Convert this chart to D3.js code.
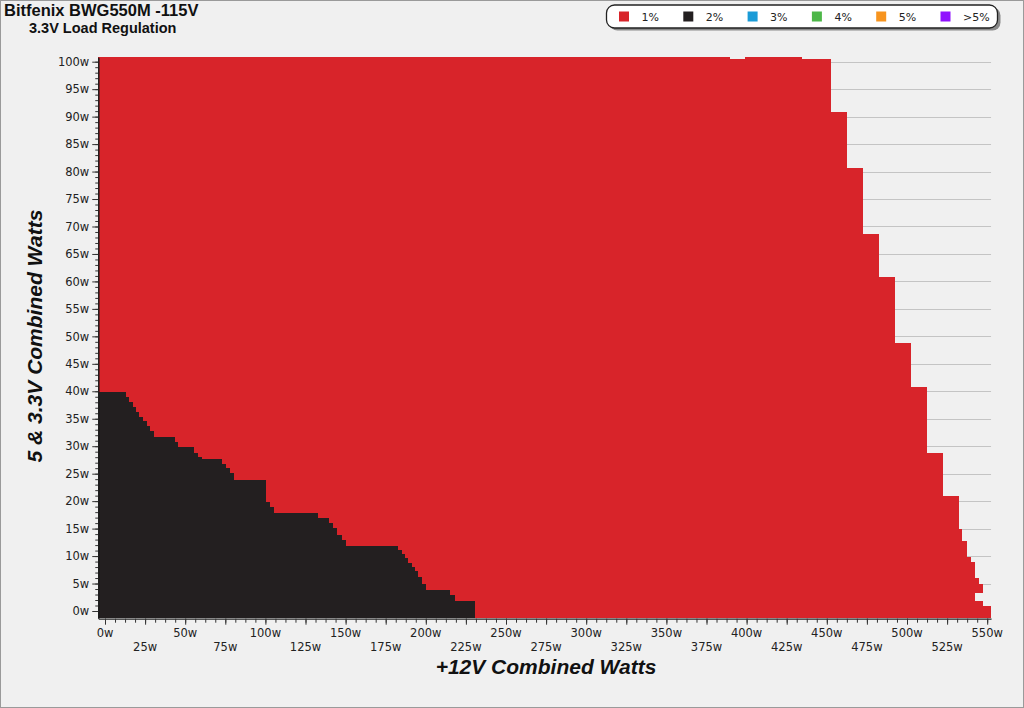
<!DOCTYPE html>
<html>
<head>
<meta charset="utf-8">
<script src="https://cdn.jsdelivr.net/npm/d3@7"></script>
<style>
html,body{margin:0;padding:0;background:#f0f0f0;}
svg{display:block;}
</style>
</head>
<body>
<svg id="chart" width="1024" height="708"></svg>
<script>
// ---- data ----
const categories = ["1%", "2%", "3%", "4%", "5%", ">5%"];
const categoryColors = ["#d8242a", "#231f20", "#1a9bd7", "#4db748", "#f7941e", "#9012fe"];

const xTickValues = d3.range(0, 551, 25);   // +12V combined watts
const yTickValues = d3.range(0, 101, 5);    // 5 & 3.3V combined watts

const xStart = -4.2;      // left edge of measured area (W)
const yBottom = -1.2;     // bottom edge of measured area (W)

// outer boundary of the 1% (red) region: [x end (W), top (W)]
const redEdge = [
  [389.7, 100.8], [399.0, 100.5], [434.5, 100.8], [452.6, 100.5],
  [462.4, 90.8], [472.4, 80.6], [482.7, 68.6], [492.5, 60.8],
  [502.3, 48.7], [512.3, 40.8], [522.6, 28.7], [532.6, 21.0],
  [534.5, 14.9], [537.2, 12.8], [539.9, 9.9], [542.4, 9.0],
  [544.9, 6.0], [547.2, 4.9], [552.4, 0.9]
];
// unmeasured hole inside the red region: [x0, x1, y0, y1] (W)
const redGaps = [[542.4, 547.2, 1.9, 3.2]];

// boundary of the 2% (black) region: [x end (W), top (W)]
const blackEdge = [
  [13.1, 39.9], [15.1, 39.0], [17.3, 38.1], [19.3, 37.2], [21.4, 36.3],
  [23.5, 35.4], [26.0, 34.5], [28.1, 33.6], [30.7, 32.7], [43.6, 31.7],
  [45.7, 30.8], [55.7, 29.9], [58.0, 28.7], [60.3, 28.1], [72.8, 27.7],
  [75.2, 26.8], [77.9, 26.0], [80.6, 25.1], [100.4, 23.8], [102.9, 19.9],
  [105.5, 19.0], [132.6, 17.9], [139.8, 16.9], [142.3, 16.0], [144.8, 15.1],
  [147.6, 13.8], [150.2, 12.9], [182.9, 11.8], [185.0, 11.1], [187.0, 10.4],
  [189.1, 9.6], [191.2, 8.8], [193.3, 8.1], [195.3, 7.2], [197.4, 6.2],
  [200.1, 5.0], [215.1, 3.8], [218.2, 2.9], [230.7, 1.9]
];

// ---- drawing ----
const svg = d3.select("#chart");
const W = 1024, H = 708;
const bg = "#f0f0f0";

const x = d3.scaleLinear().domain([0, 550]).range([105, 987.2]);
const y = d3.scaleLinear().domain([0, 100]).range([611, 61.7]);

svg.append("rect").attr("x", 0.5).attr("y", 0.5).attr("width", W - 1).attr("height", H - 1)
  .attr("fill", bg).attr("stroke", "#9a9a9a");

// grid lines
svg.append("g").selectAll("line").data(yTickValues).join("line")
  .attr("x1", x(xStart)).attr("x2", x(552.4))
  .attr("y1", d => Math.round(y(d)) + 0.5).attr("y2", d => Math.round(y(d)) + 0.5)
  .attr("stroke", "#c4c4c4").attr("stroke-width", 1);

function stepPoints(edge) {
  const pts = [[xStart, edge[0][1]]];
  for (let i = 0; i < edge.length - 1; i++) pts.push([edge[i][0], edge[i + 1][1]]);
  pts.push([edge[edge.length - 1][0], edge[edge.length - 1][1]]);
  return pts;
}
const area = d3.area().curve(d3.curveStepAfter)
  .x(d => x(d[0])).y0(y(yBottom)).y1(d => y(d[1]));

svg.append("path").datum(stepPoints(redEdge)).attr("d", area)
  .attr("fill", categoryColors[0]).attr("shape-rendering", "crispEdges");
svg.append("g").selectAll("rect").data(redGaps).join("rect")
  .attr("x", d => x(d[0])).attr("width", d => x(d[1]) - x(d[0]))
  .attr("y", d => y(d[3])).attr("height", d => y(d[2]) - y(d[3]))
  .attr("fill", bg).attr("shape-rendering", "crispEdges");
svg.append("path").datum(stepPoints(blackEdge)).attr("d", area)
  .attr("fill", categoryColors[1]).attr("shape-rendering", "crispEdges");

// axes
const tickFont = "'DejaVu Sans', Verdana, sans-serif";
const yAxisScale = y.copy().domain([-1.3, 100.8]).range([y(-1.3), y(100.8)]);
const gy = svg.append("g").attr("transform", `translate(${x(xStart)},0)`);
gy.call(d3.axisLeft(yAxisScale).tickValues(d3.range(0, 101, 1)).tickSize(3).tickFormat("").tickSizeOuter(0));
gy.call(g => g.selectAll(".tick line").attr("stroke", "#333"));
const gy2 = svg.append("g").attr("transform", `translate(${x(xStart)},0)`);
gy2.call(d3.axisLeft(yAxisScale).tickValues(yTickValues).tickSize(6).tickPadding(3)
  .tickFormat(d => d + "w").tickSizeOuter(0));
gy2.select(".domain").attr("stroke", "#222").attr("stroke-width", 1.2);
gy2.selectAll(".tick line").attr("stroke", "#333");
gy2.selectAll("text").attr("font-family", tickFont).attr("font-size", 11.5).attr("fill", "#222");

const xAxisScale = x.copy().domain([xStart, 552.4]).range([x(xStart), x(552.4)]);
const axisY = y(-1.4);
const gx = svg.append("g").attr("transform", `translate(0,${axisY})`);
gx.call(d3.axisBottom(xAxisScale).tickValues(d3.range(0, 551, 6.25)).tickSize(4).tickFormat("").tickSizeOuter(0));
gx.select(".domain").attr("stroke", "#222").attr("stroke-width", 1.2);
gx.selectAll(".tick line").attr("stroke", "#333");
const gx2 = svg.append("g").attr("transform", `translate(0,${axisY})`);
gx2.call(d3.axisBottom(xAxisScale).tickValues(xTickValues).tickSize(6).tickFormat("").tickSizeOuter(0));
gx2.select(".domain").remove();
gx2.selectAll(".tick line").attr("stroke", "#333");
svg.append("g").selectAll("text").data(xTickValues).join("text")
  .attr("x", d => x(d))
  .attr("y", (d, i) => i % 2 === 0 ? 637 : 651)
  .attr("text-anchor", "middle")
  .attr("font-family", tickFont).attr("font-size", 11.5).attr("fill", "#222")
  .text(d => d + "w");

// titles
const titleFont = "'Liberation Sans', Arial, sans-serif";
svg.append("text").attr("x", 4).attr("y", 15.8).attr("font-family", titleFont)
  .attr("font-weight", "bold").attr("font-size", 16.5).attr("fill", "#111")
  .text("Bitfenix BWG550M -115V");
svg.append("text").attr("x", 29).attr("y", 32.8).attr("font-family", titleFont)
  .attr("font-weight", "bold").attr("font-size", 14.5).attr("fill", "#111")
  .text("3.3V Load Regulation");
svg.append("text").attr("transform", "translate(42,336) rotate(-90)")
  .attr("text-anchor", "middle").attr("font-family", titleFont)
  .attr("font-weight", "bold").attr("font-style", "italic").attr("font-size", 21).attr("fill", "#111")
  .text("5 & 3.3V Combined Watts");
svg.append("text").attr("x", 546).attr("y", 674)
  .attr("text-anchor", "middle").attr("font-family", titleFont)
  .attr("font-weight", "bold").attr("font-style", "italic").attr("font-size", 21).attr("fill", "#111")
  .text("+12V Combined Watts");

// legend
const lg = svg.append("g");
lg.append("rect").attr("x", 609.5).attr("y", 7.5).attr("width", 391).attr("height", 23).attr("rx", 8)
  .attr("fill", "#8a8a8a");
lg.append("rect").attr("x", 606.5).attr("y", 5).attr("width", 391).attr("height", 23).attr("rx", 8)
  .attr("fill", "#ffffff").attr("stroke", "#222").attr("stroke-width", 1.3);
const legendX = d3.scaleLinear().domain([0, 1]).range([619, 683.3]);
const items = lg.selectAll("g.item").data(categories).join("g").attr("class", "item")
  .attr("transform", (d, i) => `translate(${legendX(i)},0)`);
items.append("rect").attr("x", 0).attr("y", 11.5).attr("width", 10).attr("height", 10)
  .attr("fill", (d, i) => categoryColors[i]);
items.append("text").attr("x", 22.5).attr("y", 20.5)
  .attr("font-family", tickFont).attr("font-size", 11).attr("fill", "#222")
  .text(d => d);
</script>
</body>
</html>
